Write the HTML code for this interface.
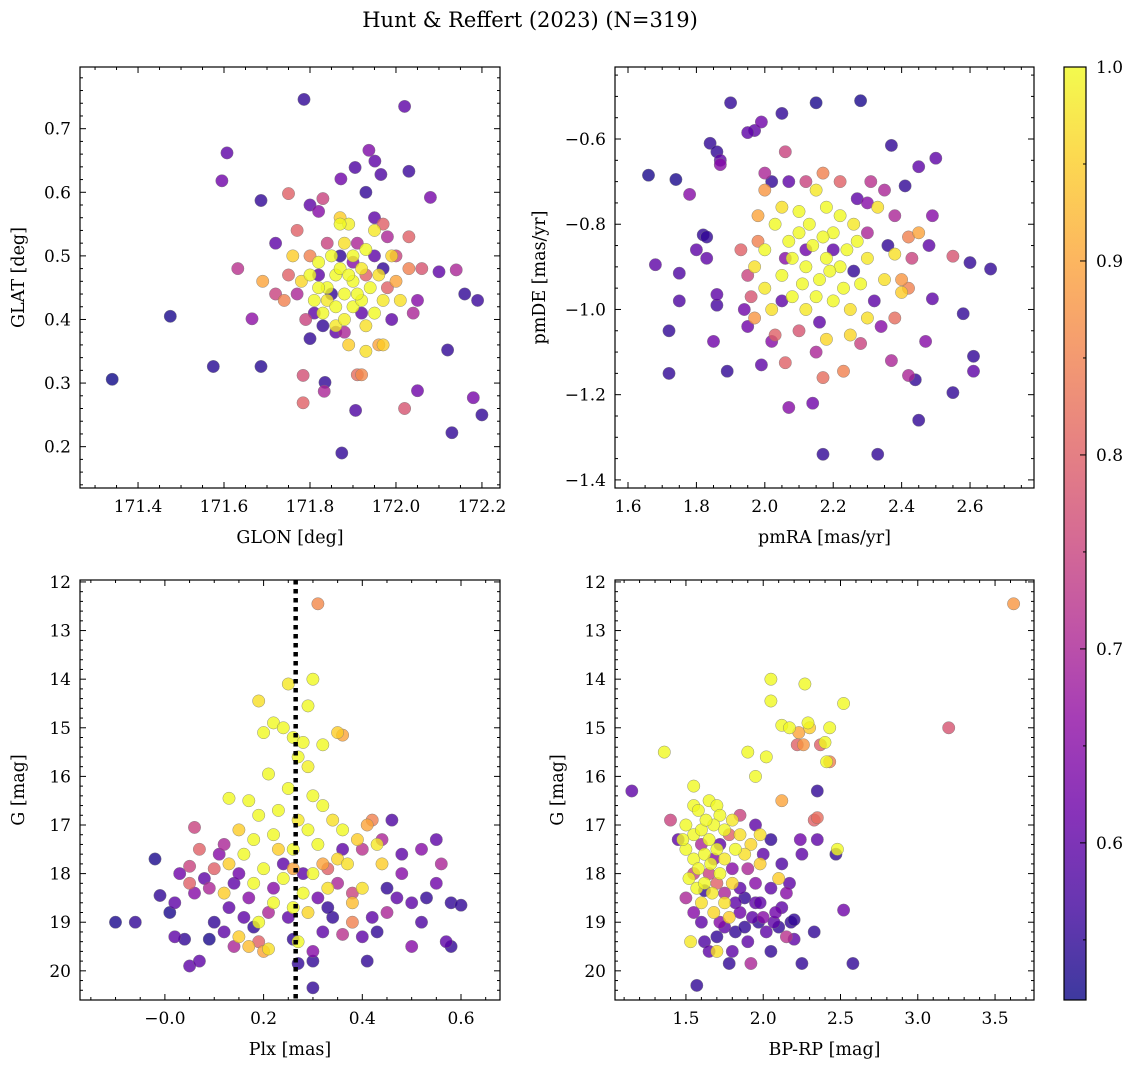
<!DOCTYPE html>
<html><head><meta charset="utf-8">
<style>
html,body{margin:0;padding:0;background:#fff;}
svg{display:block;font-family:"DejaVu Serif","Liberation Serif",serif;}
</style></head>
<body>
<svg id="fig" width="1136" height="1067" viewBox="0 0 1136 1067" xmlns="http://www.w3.org/2000/svg">
<defs>
<linearGradient id="plasma" x1="0" y1="1" x2="0" y2="0">
<stop offset="0" stop-color="#0d0887"/><stop offset="0.1" stop-color="#41049d"/>
<stop offset="0.2" stop-color="#6a00a8"/><stop offset="0.3" stop-color="#8f0da4"/>
<stop offset="0.4" stop-color="#b12a90"/><stop offset="0.5" stop-color="#cc4778"/>
<stop offset="0.6" stop-color="#e16462"/><stop offset="0.7" stop-color="#f2844b"/>
<stop offset="0.8" stop-color="#fca636"/><stop offset="0.9" stop-color="#fcce25"/>
<stop offset="1" stop-color="#f0f921"/>
</linearGradient>
</defs>
<text x="530" y="27" font-size="21" text-anchor="middle">Hunt &amp; Reffert (2023) (N=319)</text>
</svg>
<script>
// ---- data: [x, y, membership probability] ----
const skyPoints = [
[171.34,0.306,.52],[171.475,0.405,.53],[171.575,0.326,.54],[171.595,0.618,.62],[171.607,0.662,.6],[171.632,0.48,.72],[171.665,0.401,.66],[171.686,0.587,.55],[171.686,0.326,.54],[171.786,0.746,.55],[172.02,0.735,.6],[171.937,0.666,.64],[171.951,0.649,.6],[171.905,0.639,.58],[171.965,0.628,.58],[172.03,0.633,.56],[171.872,0.621,.62],[172.08,0.592,.63],[171.784,0.312,.77],[171.784,0.269,.8],[171.835,0.301,.55],[171.833,0.287,.7],[171.91,0.313,.82],[171.92,0.313,.86],[171.906,0.257,.58],[172.02,0.26,.78],[171.874,0.19,.55],[172.05,0.288,.62],[172.12,0.352,.55],[172.13,0.222,.55],[172.16,0.44,.55],[172.19,0.43,.56],[172.18,0.277,.63],[172.2,0.25,.55],[172.1,0.475,.6],[172.06,0.48,.78],[172.14,0.478,.7],
[171.75,0.598,.8],[171.72,0.52,.6],[171.72,0.44,.75],[171.69,0.46,.9],[171.74,0.43,.85],[171.75,0.47,.8],[171.76,0.5,.95],[171.77,0.54,.8],[171.8,0.58,.6],[171.82,0.57,.65],[171.83,0.59,.75],[171.87,0.56,.95],[171.93,0.6,.55],[171.95,0.56,.6],[171.97,0.55,.8],[171.98,0.53,.7],[172.03,0.53,.8],[172.0,0.5,.75],[172.03,0.48,.85],[172.0,0.46,.9],[172.05,0.43,.65],[172.04,0.41,.7],[171.99,0.4,.6],[171.96,0.36,.9],[171.97,0.36,.95],[171.93,0.35,.97],[171.89,0.36,.95],[171.86,0.38,.6],[171.83,0.39,.55],[171.8,0.37,.55],[171.79,0.4,.75],[171.81,0.41,.6],[171.77,0.44,.7],
[171.8,0.47,1],[171.82,0.49,1],[171.84,0.45,1],[171.86,0.47,1],[171.88,0.44,1],[171.9,0.46,1],[171.92,0.48,.98],[171.94,0.45,1],[171.86,0.42,1],[171.88,0.4,.99],[171.9,0.42,1],[171.92,0.43,1],[171.84,0.43,.98],[171.82,0.45,1],[171.85,0.5,1],[171.88,0.52,.97],[171.9,0.5,1],[171.93,0.51,1],[171.96,0.47,.97],[171.97,0.43,.98],[171.95,0.41,1],[171.87,0.55,1],[171.89,0.55,.99],[171.99,0.5,.96],[171.81,0.43,1],[171.83,0.41,1],[171.87,0.48,1],[171.91,0.44,1],[171.89,0.47,1],[171.93,0.39,.97],[171.86,0.39,.98],[171.78,0.46,.96],[172.01,0.43,.97],[171.95,0.54,.98],
[171.84,0.52,.75],[171.91,0.52,.7],[171.95,0.5,.6],[171.82,0.47,.6],[171.87,0.5,.55],[171.93,0.47,.8],[171.9,0.49,.65],[171.85,0.44,.55],[171.92,0.41,.6],[171.97,0.48,.55],[171.8,0.5,.85],[171.98,0.45,.8],[171.88,0.38,.7]
];
const pmPoints = [
[1.9,-0.515,.55],[2.15,-0.515,.53],[2.28,-0.51,.53],[2.05,-0.54,.55],[1.97,-0.58,.6],[1.95,-0.585,.6],[1.84,-0.61,.55],[1.86,-0.63,.55],[1.87,-0.65,.6],[1.87,-0.66,.65],[1.99,-0.56,.62],[1.66,-0.685,.53],[1.74,-0.695,.53],[2.06,-0.63,.75],[2.07,-0.7,.6],[2.02,-0.7,.55],[2.37,-0.615,.55],[2.45,-0.665,.6],[2.5,-0.645,.6],[2.41,-0.71,.55],[2.31,-0.7,.72],[1.78,-0.73,.65],[1.68,-0.895,.6],[1.75,-0.915,.58],[1.8,-0.86,.6],[1.82,-0.825,.55],[1.83,-0.83,.55],[1.83,-0.88,.6],[1.86,-0.965,.6],[1.86,-0.99,.57],[1.75,-0.98,.58],[1.72,-1.05,.55],[1.72,-1.15,.55],[1.85,-1.075,.62],[1.89,-1.145,.55],[1.94,-1.0,.62],[1.95,-1.04,.62],[1.99,-1.13,.6],[2.07,-1.23,.65],[2.14,-1.22,.62],[2.17,-1.34,.55],[2.33,-1.34,.55],[2.45,-1.26,.55],[2.55,-1.195,.55],[2.61,-1.11,.55],[2.61,-1.145,.6],[2.58,-1.01,.55],[2.66,-0.905,.55],[2.6,-0.89,.55],[2.55,-0.875,.78],[2.49,-0.78,.65],[2.48,-0.85,.6],[2.49,-0.975,.6],[2.47,-1.075,.65],[2.42,-1.155,.7],[2.44,-1.165,.55],[2.37,-1.12,.7],[2.17,-1.16,.82],[2.23,-1.145,.85],[2.06,-1.125,.8],[2.02,-1.075,.65],
[2.0,-0.86,1],[2.03,-0.8,1],[2.05,-0.92,1],[2.08,-0.88,1],[2.1,-0.82,1],[2.12,-0.9,1],[2.14,-0.85,1],[2.16,-0.93,1],[2.18,-0.88,1],[2.2,-0.82,1],[2.22,-0.9,1],[2.24,-0.86,1],[2.26,-0.8,.98],[2.28,-0.94,1],[2.3,-0.88,.98],[2.15,-0.97,1],[2.12,-1.0,.98],[2.08,-0.97,1],[2.2,-0.98,1],[2.25,-1.0,.97],[2.3,-1.02,.97],[2.35,-0.93,.97],[2.4,-0.96,.95],[2.38,-0.87,.97],[2.1,-0.77,1],[2.15,-0.72,.98],[2.18,-0.76,1],[2.22,-0.78,1],[2.05,-0.76,.97],[2.0,-0.95,.98],[1.97,-0.9,.97],[2.02,-1.0,.97],[2.25,-1.06,.96],[2.18,-1.07,.96],[2.33,-0.76,.97],[2.13,-0.8,1],[2.17,-0.83,1],[2.07,-0.84,1],[2.27,-0.84,1],[2.19,-0.91,1],[2.23,-0.95,1],[2.11,-0.94,1],
[2.0,-0.72,.88],[1.98,-0.78,.9],[1.98,-0.84,.85],[1.93,-0.86,.8],[1.95,-0.92,.75],[1.96,-0.97,.78],[1.97,-1.02,.88],[2.03,-1.06,.8],[2.1,-1.05,.78],[2.15,-1.1,.7],[2.28,-1.08,.75],[2.34,-1.04,.65],[2.38,-1.02,.82],[2.42,-0.95,.85],[2.43,-0.88,.75],[2.45,-0.82,.9],[2.38,-0.78,.7],[2.35,-0.72,.7],[2.3,-0.75,.65],[2.27,-0.74,.6],[2.22,-0.7,.8],[2.17,-0.68,.85],[2.12,-0.7,.75],[2.0,-0.68,.7],[2.06,-0.88,.65],[2.2,-0.86,.6],[2.26,-0.91,.55],[2.12,-0.86,.62],[2.16,-1.03,.6],[2.32,-0.98,.6],[2.05,-0.98,.6],[2.4,-0.93,.88],[2.42,-0.83,.85],[2.3,-0.82,.7],[2.36,-0.85,.55]
];
const plxPoints = [
[-0.1,19.0,.53],[-0.06,19.0,.55],[-0.02,17.7,.53],[-0.01,18.45,.55],[0.01,18.8,.53],[0.02,19.3,.6],[0.04,19.35,.55],[0.05,19.9,.6],[0.06,18.4,.65],[0.07,19.8,.6],[0.02,18.6,.6],[0.03,18.0,.62],[0.05,17.85,.75],[0.06,17.05,.75],[0.09,18.3,.7],[0.1,19.0,.55],[0.09,19.35,.53],[0.12,19.2,.6],[0.14,19.5,.7],[0.05,18.2,.8],[0.08,18.1,.6],[0.11,17.6,.65],[0.13,18.7,.6],[0.15,18.0,.62],[0.17,18.5,.65],[0.18,19.1,.55],[0.19,19.4,.8],[0.2,19.6,.9],[0.22,18.3,.65],[0.25,18.9,.6],[0.26,19.35,.55],[0.27,19.85,.55],[0.3,20.35,.55],[0.3,19.8,.55],[0.3,19.6,.65],[0.32,19.2,.6],[0.34,18.9,.55],[0.36,19.25,.72],[0.38,19.0,.85],[0.4,19.3,.6],[0.41,19.8,.55],[0.43,19.2,.55],[0.45,18.8,.7],[0.47,18.5,.6],[0.48,18.0,.65],[0.5,19.5,.65],[0.52,19.0,.58],[0.53,18.5,.55],[0.55,18.2,.62],[0.56,17.8,.7],[0.58,18.6,.55],[0.6,18.65,.55],[0.57,19.4,.6],[0.58,19.5,.55],[0.55,17.3,.6],[0.52,17.5,.65],[0.48,17.6,.6],[0.46,16.9,.58],[0.44,17.3,.7],[0.42,16.9,.85],[0.4,17.5,.72],[0.38,18.4,.75],[0.35,18.2,.7],[0.33,17.9,.8],[0.31,18.5,.62],[0.28,18.0,.6],[0.24,17.8,.6],[0.21,18.8,.7],[0.16,18.9,.6],[0.14,18.2,.6],[0.12,17.4,.7],[0.1,17.9,.8],[0.07,17.5,.8],[0.45,18.3,.55],[0.5,18.6,.6],[0.42,18.9,.6],[0.36,17.5,.6],[0.33,18.7,.55],
[0.31,12.45,.86],[0.3,14.0,1],[0.25,14.1,.98],[0.19,14.45,.97],[0.29,14.55,1],[0.22,14.9,1],[0.24,15.0,1],[0.2,15.1,1],[0.26,15.2,1],[0.28,15.3,1],[0.32,15.35,1],[0.27,15.6,1],[0.29,15.8,.99],[0.35,15.1,.95],[0.36,15.15,.9],[0.21,15.95,1],[0.25,16.25,1],[0.3,16.4,1],[0.32,16.6,1],[0.17,16.5,1],[0.13,16.45,1],[0.19,16.8,1],[0.23,16.7,1],[0.27,16.9,.98],[0.34,16.9,.97],[0.15,17.1,.95],[0.18,17.3,1],[0.22,17.2,1],[0.26,17.5,1],[0.29,17.1,1],[0.31,17.4,1],[0.36,17.1,1],[0.39,17.3,.95],[0.41,17.0,.9],[0.43,17.4,.98],[0.37,17.8,.97],[0.13,17.8,.95],[0.16,17.6,1],[0.2,17.9,1],[0.24,18.1,1],[0.28,18.4,1],[0.3,18.0,1],[0.33,18.3,.97],[0.35,17.7,.96],[0.12,18.4,.95],[0.18,18.2,1],[0.22,18.6,1],[0.26,18.7,1],[0.19,19.0,1],[0.15,19.3,.95],[0.27,19.4,1],[0.29,18.8,.96],[0.38,18.6,.93],[0.4,18.3,.97],[0.44,17.8,.95],[0.17,19.5,.93],[0.21,19.55,.97],[0.23,17.5,.95],[0.26,17.9,.9],[0.32,17.8,.9]
];
const cmdPoints = [
[3.62,12.45,.88],[3.2,15.0,.78],[1.15,16.3,.6],[1.36,15.5,1],[1.57,20.3,.55],[2.58,19.85,.55],[2.25,19.85,.55],[2.33,19.2,.55],[2.47,17.6,.55],[2.48,17.5,1],[2.52,18.75,.62],[2.35,16.3,.55],[2.35,16.85,.82],[2.33,16.9,.8],[2.35,17.3,.6],[2.24,17.3,.62],[2.25,17.6,.6],
[2.05,14.0,1],[2.27,14.1,1],[2.52,14.5,1],[2.05,14.45,1],[2.12,14.95,1],[2.17,15.0,1],[2.29,14.9,1],[2.3,15.0,.95],[2.4,15.3,1],[2.43,15.0,1],[2.23,15.1,.9],[2.26,15.35,.88],[2.22,15.35,.8],[2.37,15.35,.8],[2.41,15.7,1],[2.43,15.7,.85],[2.02,15.6,1],[1.95,16.0,1],[2.12,16.5,.9],[1.9,15.5,1],[1.55,16.2,1],
[1.4,16.9,.75],[1.45,17.3,.6],[1.5,18.5,.7],[1.55,18.8,.65],[1.6,19.0,.6],[1.62,19.4,.58],[1.65,19.6,.6],[1.7,19.3,.55],[1.75,19.1,.6],[1.78,19.85,.55],[1.8,19.6,.6],[1.82,19.2,.55],[1.85,18.8,.62],[1.88,19.1,.55],[1.9,19.4,.6],[1.92,19.85,.7],[1.95,18.6,.6],[1.97,19.0,.55],[2.0,18.9,.65],[2.02,19.2,.6],[2.05,19.6,.55],[2.07,19.0,.6],[2.1,19.1,.55],[2.12,18.7,.6],[2.15,19.3,.72],[2.18,19.0,.55],[2.2,18.95,.55],[2.15,18.4,.65],[2.05,18.3,.6],[1.95,18.2,.65],[1.85,18.3,.6],[1.75,18.4,.7],[1.7,18.2,.8],[1.65,18.0,.75],[1.8,17.9,.65],[1.9,17.9,.7],[2.0,17.6,.6],[2.05,17.3,.55],[1.95,17.0,.6],[1.85,16.8,.75],[1.78,17.2,.8],[1.72,17.4,.6],[1.68,17.7,.65],[1.88,18.5,.55],[1.98,18.6,.6],[2.08,18.8,.62],[2.12,17.8,.58],[2.17,18.2,.6],[2.2,19.35,.6],[1.6,17.4,.7],[1.55,18.0,.75],[1.72,19.0,.65],[1.93,18.9,.6],[1.82,18.6,.6],[1.62,18.35,.55],
[1.55,16.6,1],[1.58,16.7,1],[1.65,16.5,1],[1.7,16.6,1],[1.72,16.8,1],[1.5,17.0,1],[1.55,17.2,1],[1.6,17.1,1],[1.65,17.3,1],[1.68,17.0,1],[1.75,17.1,1],[1.8,16.9,.98],[1.85,17.2,.97],[1.5,17.5,1],[1.55,17.7,1],[1.58,17.9,1],[1.62,17.6,1],[1.66,17.8,1],[1.7,17.5,1],[1.75,17.7,.98],[1.52,18.1,1],[1.57,18.3,1],[1.62,18.2,1],[1.67,18.4,.98],[1.72,18.0,1],[1.8,18.2,.96],[1.6,18.6,.97],[1.68,18.8,.96],[1.75,18.6,.97],[1.88,17.6,.97],[1.92,17.4,.96],[1.98,17.2,.97],[1.98,17.8,.95],[1.7,19.6,.97],[1.53,19.4,.98],[1.48,17.3,1],[1.63,16.9,1],[1.82,17.5,1],[2.1,18.1,.95],[1.78,18.9,.95]
];
const cbTicks = [0.6,0.7,0.8,0.9,1.0];
const dividerPlx = 0.265;
const pMin = 0.519, pMax = 1.0;

const NS = "http://www.w3.org/2000/svg";
const svg = document.getElementById('fig');
function mk(tag, attrs, parent){ const e=document.createElementNS(NS,tag); for(const k in attrs) e.setAttribute(k,attrs[k]); (parent||svg).appendChild(e); return e; }

const stops=[[0,[13,8,135]],[.1,[65,4,157]],[.2,[106,0,168]],[.3,[143,13,164]],[.4,[177,42,144]],[.5,[204,71,120]],[.6,[225,100,98]],[.7,[242,132,75]],[.8,[252,166,54]],[.9,[252,206,37]],[1,[240,249,33]]];
function plasma(t){ t=Math.max(0,Math.min(1,t)); for(let i=1;i<stops.length;i++){ if(t<=stops[i][0]){ const a=stops[i-1],b=stops[i],f=(t-a[0])/(b[0]-a[0]); return 'rgb('+a[1].map((v,j)=>Math.round(v+(b[1][j]-v)*f)).join(',')+')'; } } return 'rgb(240,249,33)'; }
function fmt(v,d){ const s=v.toFixed(d); return s.replace('-','\u2212'); }

function panel(cfg){
  const {L,T,R,B,xmin,xmax,ymin,ymax,invert,name}=cfg;
  const sx=v=>L+(v-xmin)/(xmax-xmin)*(R-L);
  const sy=v=> invert ? T+(v-ymin)/(ymax-ymin)*(B-T) : B-(v-ymin)/(ymax-ymin)*(B-T);
  const g=mk('g',{});
  
  
  const pts=cfg.points.slice().sort((a,b)=>a[2]-b[2]);
  const mg=mk('g',{},g);
  
  
  for(const p of pts){
    const c=mk('circle',{cx:sx(p[0]).toFixed(1),cy:sy(p[1]).toFixed(1),r:6.2,fill:plasma((p[2]-pMin)/(pMax-pMin)),'fill-opacity':0.8,stroke:'#777','stroke-width':0.4},mg);
    
    
  }
  if(cfg.vline!==undefined){
    const l=mk('line',{x1:sx(cfg.vline),x2:sx(cfg.vline),y1:T,y2:B,stroke:'#000','stroke-width':4.5,'stroke-dasharray':'4.5,4.5'},g);
    
    
  }
  mk('rect',{x:L,y:T,width:R-L,height:B-T,fill:'none',stroke:'#000','stroke-width':1.2},g);
  const tg=mk('g',{stroke:'#000','stroke-width':1},g);
  const eps=1e-9;
  for(let v=Math.ceil(xmin/cfg.xminor-eps)*cfg.xminor; v<=xmax+eps; v+=cfg.xminor){
    const x=sx(v); const maj=Math.abs(v/cfg.xmajor-Math.round(v/cfg.xmajor))<1e-6; const len=maj?6:3;
    mk('line',{x1:x,x2:x,y1:B,y2:B-len},tg); mk('line',{x1:x,x2:x,y1:T,y2:T+len},tg);
    if(maj){ const t=mk('text',{x:x,y:B+24,'font-size':17,'text-anchor':'middle',stroke:'none',fill:'#000'},g); t.textContent=fmt(v,cfg.xdec);
        }
  }
  for(let v=Math.ceil(ymin/cfg.yminor-eps)*cfg.yminor; v<=ymax+eps; v+=cfg.yminor){
    const y=sy(v); const maj=Math.abs(v/cfg.ymajor-Math.round(v/cfg.ymajor))<1e-6; const len=maj?6:3;
    mk('line',{x1:L,x2:L+len,y1:y,y2:y},tg); mk('line',{x1:R,x2:R-len,y1:y,y2:y},tg);
    if(maj){ const t=mk('text',{x:L-9,y:y+6,'font-size':17,'text-anchor':'end',stroke:'none',fill:'#000'},g); t.textContent=fmt(v,cfg.ydec);
        }
  }
  const xl=mk('text',{x:(L+R)/2,y:B+55,'font-size':17.5,'text-anchor':'middle'},g); xl.textContent=cfg.xlabel;
   
  const yx=cfg.ylx, yy=(T+B)/2;
  const yl=mk('text',{x:yx,y:yy,'font-size':17.5,'text-anchor':'middle',transform:'rotate(-90 '+yx+' '+yy+')'},g); yl.textContent=cfg.ylabel;
   
}

panel({name:'sky-position-panel',points:skyPoints,L:80,T:67,R:500,B:488,xmin:171.265,xmax:172.242,ymin:0.135,ymax:0.797,xmajor:0.2,xminor:0.05,ymajor:0.1,yminor:0.02,xdec:1,ydec:1,xlabel:'GLON [deg]',ylabel:'GLAT [deg]',ylx:24});
panel({name:'proper-motion-panel',points:pmPoints,L:615,T:67,R:1034,B:488,xmin:1.562,xmax:2.787,ymin:-1.419,ymax:-0.431,xmajor:0.2,xminor:0.05,ymajor:0.2,yminor:0.05,xdec:1,ydec:1,xlabel:'pmRA [mas/yr]',ylabel:'pmDE [mas/yr]',ylx:545});
panel({name:'parallax-magnitude-panel',points:plxPoints,vline:dividerPlx,L:80,T:580,R:500,B:1000,xmin:-0.172,xmax:0.679,ymin:11.96,ymax:20.6,invert:true,xmajor:0.2,xminor:0.05,ymajor:1,yminor:0.2,xdec:1,ydec:0,xlabel:'Plx [mas]',ylabel:'G [mag]',ylx:24});
panel({name:'color-magnitude-panel',points:cmdPoints,L:615,T:580,R:1034,B:1000,xmin:1.041,xmax:3.752,ymin:11.96,ymax:20.6,invert:true,xmajor:0.5,xminor:0.1,ymajor:1,yminor:0.2,xdec:1,ydec:0,xlabel:'BP-RP [mag]',ylabel:'G [mag]',ylx:563});

// colorbar
(function(){
  const L=1064,R=1086,T=67,B=1000;
  const g=mk('g',{});
  
  
  mk('rect',{x:L,y:T,width:R-L,height:B-T,fill:'url(#plasma)','fill-opacity':0.8},g);
  mk('rect',{x:L,y:T,width:R-L,height:B-T,fill:'none',stroke:'#000','stroke-width':1.2},g);
  const sy=v=>B-(v-pMin)/(pMax-pMin)*(B-T);
  for(let v=0.55; v<=pMax+1e-9; v+=0.05){
    const y=sy(v); const maj=Math.abs(v*10-Math.round(v*10))<1e-6;
    mk('line',{x1:R,x2:R-(maj?6:3),y1:y,y2:y,stroke:'#000','stroke-width':1},g);
  }
  for(const v of cbTicks){
    const t=mk('text',{x:R+10,y:sy(v)+6,'font-size':17},g); t.textContent=v.toFixed(1);
     
  }
})();
</script>
</body></html>
